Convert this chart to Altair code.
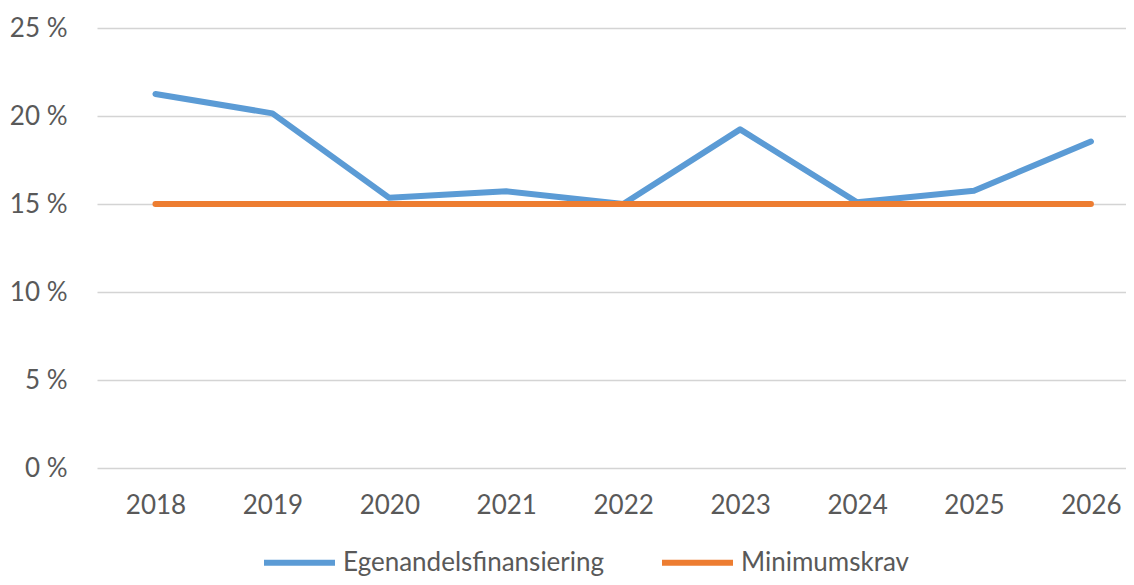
import altair as alt
import pandas as pd

years = [2018, 2019, 2020, 2021, 2022, 2023, 2024, 2025, 2026]
egenandel = [21.25, 20.15, 15.35, 15.72, 15.0, 19.24, 15.1, 15.75, 18.55]
minimum = [15.0, 15.0, 15.0, 15.0, 15.0, 15.0, 15.0, 15.0, 15.0]
series_names = ["Egenandelsfinansiering", "Minimumskrav"]
series_colors = ["#5B9BD5", "#ED7D31"]
y_ticks = [0, 5, 10, 15, 20, 25]

rows = []
for yr, v in zip(years, egenandel):
    rows.append({"år": yr, "verdi": v, "serie": series_names[0]})
for yr, v in zip(years, minimum):
    rows.append({"år": yr, "verdi": v, "serie": series_names[1]})
df = pd.DataFrame(rows)

FONT = "Lato"
TXT = "#595959"

chart = alt.Chart(df).mark_line(strokeWidth=6, strokeCap="round", strokeJoin="round").encode(
    x=alt.X("år:Q",
            scale=alt.Scale(domain=[2017.5, 2026.3], nice=False, zero=False),
            axis=alt.Axis(values=years, format="d", title=None, grid=False, domain=False,
                          ticks=False, labelFontSize=26, labelColor=TXT, labelFont=FONT,
                          labelPadding=24, labelFlush=False)),
    y=alt.Y("verdi:Q",
            scale=alt.Scale(domain=[0, 25], nice=False),
            axis=alt.Axis(values=y_ticks, title=None, domain=False, ticks=False,
                          labelExpr="datum.value + ' %'", labelFontSize=26, labelColor=TXT,
                          labelFont=FONT, labelPadding=30, gridColor="#d4d4d4", gridWidth=1.5)),
    color=alt.Color("serie:N",
                    scale=alt.Scale(domain=series_names, range=series_colors),
                    legend=alt.Legend(title=None, orient="none", legendX=164, legendY=496,
                                      direction="horizontal", symbolType="stroke",
                                      symbolSize=5041, symbolStrokeWidth=6,
                                      labelFontSize=26, labelColor=TXT, labelFont=FONT,
                                      labelLimit=500, labelOffset=5, columnPadding=45)),
).properties(
    width=1029, height=440,
    autosize=alt.AutoSizeParams(type="none"),
    padding={"left": 89, "top": 20, "right": 0, "bottom": 109},
).configure(font=FONT).configure_view(stroke=None)

chart.save("out.html", embed_options={"renderer": "svg", "actions": False})
